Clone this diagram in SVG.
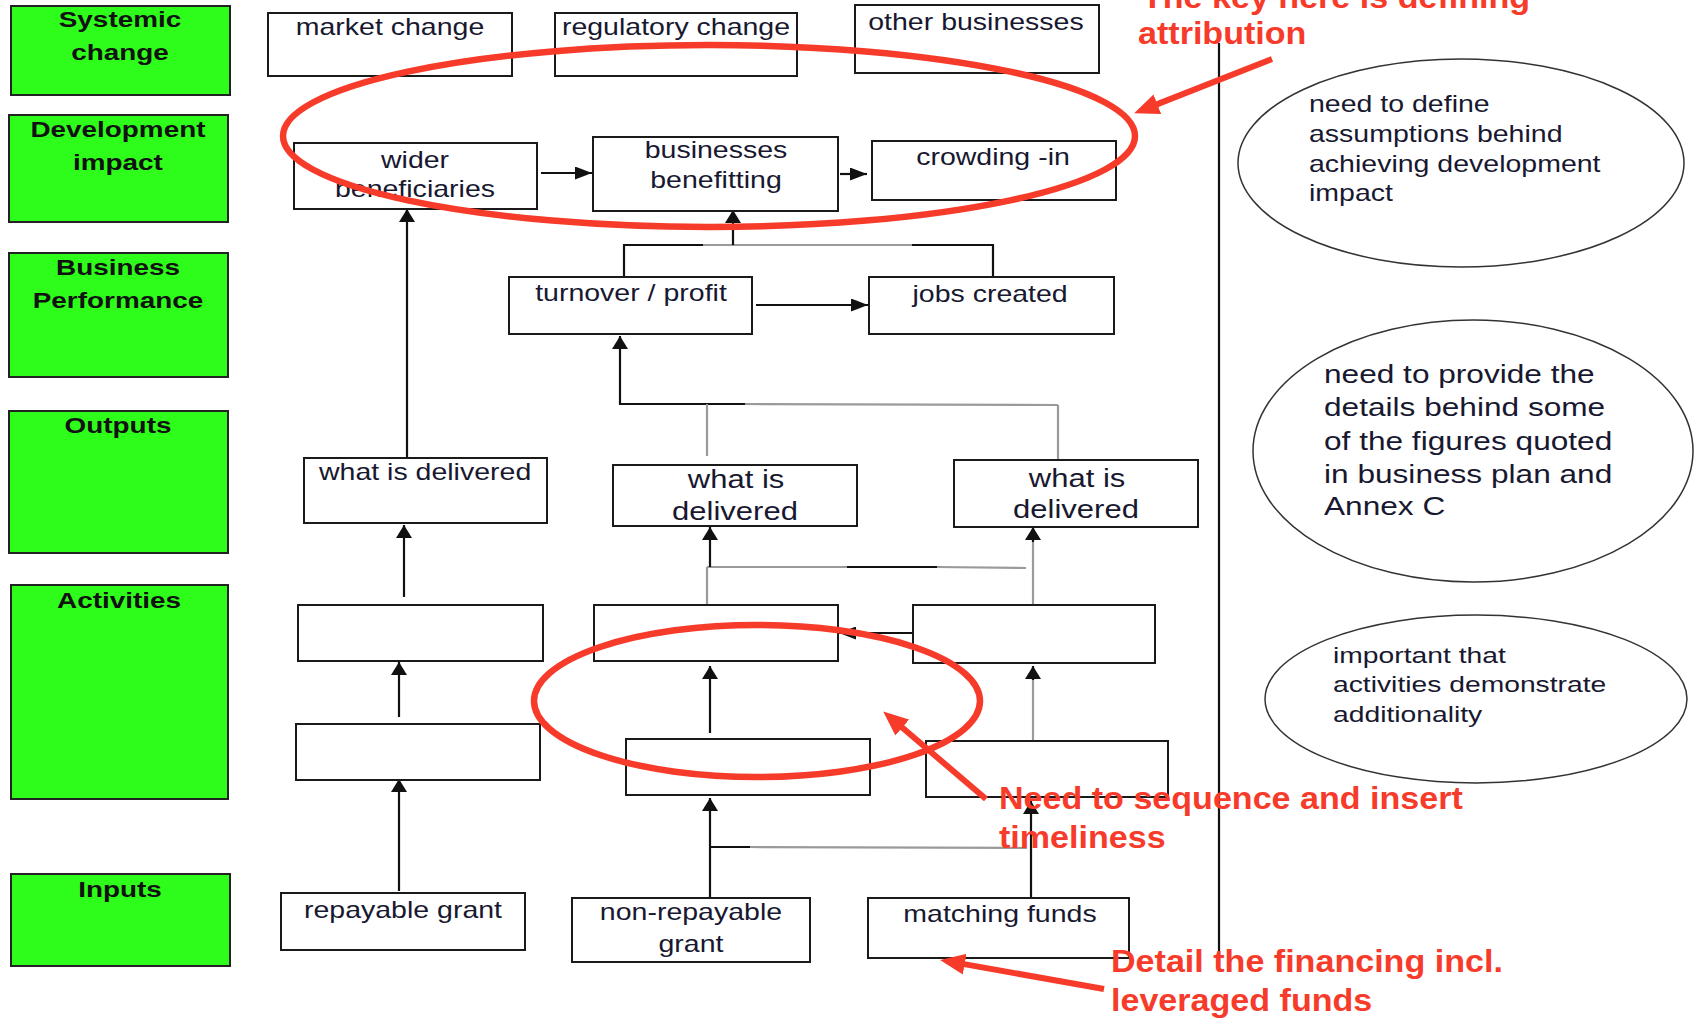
<svg xmlns="http://www.w3.org/2000/svg" width="1696" height="1019" viewBox="0 0 1696 1019">
  <style>
    .lvl { fill: #2efc1a; stroke: #222; stroke-width: 2; }
    .box { fill: #fff; stroke: #1a1a1a; stroke-width: 2; }
    .note { fill: #fff; stroke: #333; stroke-width: 1.5; }
    .hd { font-family: "Liberation Sans", Arial, sans-serif; font-weight: bold; font-size: 22.5px; fill: #111; text-anchor: middle;
          transform-box: fill-box; transform-origin: center; transform: scaleX(1.24); }
    .lbl { font-family: "Liberation Sans", Arial, sans-serif; font-size: 23px; fill: #181830; text-anchor: middle;
           transform-box: fill-box; transform-origin: center; transform: scaleX(1.24); }
    .big { font-size: 25px; }
    .nt { font-family: "Liberation Sans", Arial, sans-serif; fill: #181830;
          transform-box: fill-box; transform-origin: 0 50%; transform: scaleX(1.24); }
    .red { font-family: "Liberation Sans", Arial, sans-serif; font-weight: bold; font-size: 32px; fill: #f73b2b;
           transform-box: fill-box; transform-origin: 0 50%; transform: scaleX(1.065); }
    .ln { fill: none; stroke: #111; stroke-width: 2.2; }
    .gr { fill: none; stroke: #9a9a9a; stroke-width: 2.2; }
    .up { marker-end: url(#headV); }
    .rt { marker-end: url(#headH); }
    .mark { fill: none; stroke: #f73b2b; stroke-width: 6.5; }
    .rarrow { fill: none; stroke: #f73b2b; stroke-width: 6; marker-end: url(#headR); }
  </style>
  <defs>
    <marker id="headV" markerUnits="userSpaceOnUse" markerWidth="13" markerHeight="16" refX="13" refY="8" orient="auto">
      <path d="M0,0 L13,8 L0,16 z" fill="#111"/>
    </marker>
    <marker id="headH" markerUnits="userSpaceOnUse" markerWidth="17" markerHeight="13" refX="17" refY="6.5" orient="auto">
      <path d="M0,0 L17,6.5 L0,13 z" fill="#111"/>
    </marker>
    <marker id="headR" markerUnits="userSpaceOnUse" markerWidth="25" markerHeight="21" refX="2" refY="10.5" orient="auto">
      <path d="M0,0 L25,10.5 L0,21 z" fill="#f73b2b"/>
    </marker>
  </defs>

  <rect width="1696" height="1019" fill="#fff"/>

  <!-- level labels down the left side -->
  <g id="level-systemic">
    <rect class="lvl" x="11" y="6" width="219" height="89"/>
    <text class="hd" x="120" y="27">Systemic</text>
    <text class="hd" x="120" y="60">change</text>
  </g>
  <g id="level-development">
    <rect class="lvl" x="9" y="115" width="219" height="107"/>
    <text class="hd" x="118" y="137">Development</text>
    <text class="hd" x="118" y="170">impact</text>
  </g>
  <g id="level-business">
    <rect class="lvl" x="9" y="253" width="219" height="124"/>
    <text class="hd" x="118" y="275">Business</text>
    <text class="hd" x="118" y="308">Performance</text>
  </g>
  <g id="level-outputs">
    <rect class="lvl" x="9" y="411" width="219" height="142"/>
    <text class="hd" x="118" y="433">Outputs</text>
  </g>
  <g id="level-activities">
    <rect class="lvl" x="11" y="585" width="217" height="214"/>
    <text class="hd" x="119" y="608">Activities</text>
  </g>
  <g id="level-inputs">
    <rect class="lvl" x="11" y="874" width="219" height="92"/>
    <text class="hd" x="120" y="897">Inputs</text>
  </g>

  <!-- connectors -->
  <g id="connectors">
    <!-- development impact row -->
    <line class="ln rt" x1="541" y1="173" x2="592" y2="173"/>
    <line class="ln rt" x1="840" y1="174" x2="867" y2="174"/>
    <!-- business performance into businesses benefitting -->
    <line class="ln" x1="624" y1="277" x2="624" y2="245"/>
    <line class="ln" x1="993" y1="277" x2="993" y2="245"/>
    <line class="ln" x1="623" y1="245" x2="703" y2="245"/>
    <line class="gr" x1="703" y1="245" x2="912" y2="245"/>
    <line class="ln" x1="912" y1="245" x2="994" y2="245"/>
    <line class="ln up" x1="733" y1="245" x2="733" y2="210"/>
    <line class="ln rt" x1="756" y1="305" x2="868" y2="305"/>
    <!-- outputs into turnover / profit -->
    <line class="ln up" x1="620" y1="405" x2="620" y2="336"/>
    <line class="ln" x1="619" y1="404" x2="745" y2="404"/>
    <line class="gr" x1="745" y1="404" x2="1058" y2="405"/>
    <line class="gr" x1="707" y1="404" x2="707" y2="456"/>
    <line class="gr" x1="1058" y1="405" x2="1058" y2="460"/>
    <!-- left column -->
    <line class="ln up" x1="407" y1="458" x2="407" y2="209"/>
    <line class="ln up" x1="404" y1="597" x2="404" y2="525"/>
    <line class="ln up" x1="399" y1="717" x2="399" y2="662"/>
    <line class="ln up" x1="399" y1="891" x2="399" y2="779"/>
    <!-- activities into middle and right outputs -->
    <line class="gr" x1="707" y1="605" x2="707" y2="567"/>
    <line class="gr" x1="707" y1="567" x2="847" y2="567"/>
    <line class="ln" x1="847" y1="567" x2="937" y2="567"/>
    <line class="gr" x1="937" y1="567" x2="1026" y2="568"/>
    <line class="ln up" x1="710" y1="567" x2="710" y2="527"/>
    <line class="gr" x1="1033" y1="605" x2="1033" y2="540"/>
    <line class="ln up" x1="1033" y1="542" x2="1033" y2="527"/>
    <line class="ln rt" x1="913" y1="633" x2="839" y2="633"/>
    <line class="ln up" x1="710" y1="733" x2="710" y2="666"/>
    <line class="gr" x1="1033" y1="741" x2="1033" y2="678"/>
    <line class="ln up" x1="1033" y1="680" x2="1033" y2="666"/>
    <!-- inputs into activities -->
    <line class="ln up" x1="710" y1="898" x2="710" y2="798"/>
    <line class="ln" x1="709" y1="847" x2="750" y2="847"/>
    <line class="gr" x1="750" y1="847" x2="1027" y2="848"/>
    <line class="ln up" x1="1031" y1="898" x2="1031" y2="801"/>
    <!-- divider between chain and notes -->
    <line class="ln" x1="1219" y1="43" x2="1219" y2="966" stroke-width="2"/>
  </g>

  <!-- systemic change -->
  <g id="market-change">
    <rect class="box" x="268" y="13" width="244" height="63"/>
    <text class="lbl" x="390" y="35">market change</text>
  </g>
  <g id="regulatory-change">
    <rect class="box" x="555" y="13" width="242" height="63"/>
    <text class="lbl" x="676" y="35">regulatory change</text>
  </g>
  <g id="other-businesses">
    <rect class="box" x="855" y="5" width="244" height="68"/>
    <text class="lbl" x="976" y="30">other businesses</text>
  </g>

  <!-- development impact -->
  <g id="wider-beneficiaries">
    <rect class="box" x="294" y="143" width="243" height="66"/>
    <text class="lbl" x="415" y="168">wider</text>
    <text class="lbl" x="415" y="197">beneficiaries</text>
  </g>
  <g id="businesses-benefitting">
    <rect class="box" x="593" y="137" width="245" height="74"/>
    <text class="lbl" x="716" y="158">businesses</text>
    <text class="lbl" x="716" y="188">benefitting</text>
  </g>
  <g id="crowding-in">
    <rect class="box" x="872" y="141" width="244" height="59"/>
    <text class="lbl" x="993" y="165">crowding -in</text>
  </g>

  <!-- business performance -->
  <g id="turnover-profit">
    <rect class="box" x="509" y="277" width="243" height="57"/>
    <text class="lbl" x="631" y="301">turnover / profit</text>
  </g>
  <g id="jobs-created">
    <rect class="box" x="869" y="277" width="245" height="57"/>
    <text class="lbl" x="990" y="302">jobs created</text>
  </g>

  <!-- outputs -->
  <g id="output-left">
    <rect class="box" x="304" y="458" width="243" height="65"/>
    <text class="lbl" x="425" y="480">what is delivered</text>
  </g>
  <g id="output-middle">
    <rect class="box" x="613" y="465" width="244" height="61"/>
    <text class="lbl big" x="736" y="488">what is</text>
    <text class="lbl big" x="735" y="520">delivered</text>
  </g>
  <g id="output-right">
    <rect class="box" x="954" y="460" width="244" height="67"/>
    <text class="lbl big" x="1077" y="487">what is</text>
    <text class="lbl big" x="1076" y="518">delivered</text>
  </g>

  <!-- activities -->
  <g id="activity-left-upper"><rect class="box" x="298" y="605" width="245" height="56"/></g>
  <g id="activity-middle-upper"><rect class="box" x="594" y="605" width="244" height="56"/></g>
  <g id="activity-right-upper"><rect class="box" x="913" y="605" width="242" height="58"/></g>
  <g id="activity-left-lower"><rect class="box" x="296" y="724" width="244" height="56"/></g>
  <g id="activity-middle-lower"><rect class="box" x="626" y="739" width="244" height="56"/></g>
  <g id="activity-right-lower"><rect class="box" x="926" y="741" width="242" height="56"/></g>

  <!-- inputs -->
  <g id="repayable-grant">
    <rect class="box" x="281" y="893" width="244" height="57"/>
    <text class="lbl" x="403" y="918">repayable grant</text>
  </g>
  <g id="non-repayable-grant">
    <rect class="box" x="572" y="898" width="238" height="64"/>
    <text class="lbl" x="691" y="920">non-repayable</text>
    <text class="lbl" x="691" y="952">grant</text>
  </g>
  <g id="matching-funds">
    <rect class="box" x="868" y="898" width="261" height="60"/>
    <text class="lbl" x="1000" y="922">matching funds</text>
  </g>

  <!-- notes on the right -->
  <g id="note-assumptions">
    <ellipse class="note" cx="1461" cy="163" rx="223" ry="104"/>
    <text class="nt" font-size="23" x="1309" y="112">need to define</text>
    <text class="nt" font-size="23" x="1309" y="142">assumptions behind</text>
    <text class="nt" font-size="23" x="1309" y="172">achieving development</text>
    <text class="nt" font-size="23" x="1309" y="201">impact</text>
  </g>
  <g id="note-figures">
    <ellipse class="note" cx="1473" cy="451" rx="220" ry="131"/>
    <text class="nt" font-size="25.5" x="1324" y="383">need to provide the</text>
    <text class="nt" font-size="25.5" x="1324" y="416">details behind some</text>
    <text class="nt" font-size="25.5" x="1324" y="450">of the figures quoted</text>
    <text class="nt" font-size="25.5" x="1324" y="483">in business plan and</text>
    <text class="nt" font-size="25.5" x="1324" y="515">Annex C</text>
  </g>
  <g id="note-additionality">
    <ellipse class="note" cx="1476" cy="699" rx="211" ry="84"/>
    <text class="nt" font-size="22.8" x="1333" y="663">important that</text>
    <text class="nt" font-size="22.8" x="1333" y="692">activities demonstrate</text>
    <text class="nt" font-size="22.8" x="1333" y="722">additionality</text>
  </g>

  <!-- red review annotations -->
  <g id="review-marks">
    <ellipse class="mark" cx="709" cy="136" rx="426" ry="91"/>
    <ellipse class="mark" cx="757" cy="701" rx="223" ry="76"/>
    <line class="rarrow" x1="1272" y1="59" x2="1155.5" y2="104.9"/>
    <line class="rarrow" x1="986" y1="799" x2="900.7" y2="726.3"/>
    <line class="rarrow" x1="1104" y1="989" x2="962.7" y2="963.9"/>
    <text class="red" x="1142" y="8">The key here is defining</text>
    <text class="red" x="1138" y="44">attribution</text>
    <text class="red" x="999" y="809">Need to sequence and insert</text>
    <text class="red" x="999" y="848">timeliness</text>
    <text class="red" x="1111" y="972">Detail the financing incl.</text>
    <text class="red" x="1111" y="1011">leveraged funds</text>
  </g>
</svg>
